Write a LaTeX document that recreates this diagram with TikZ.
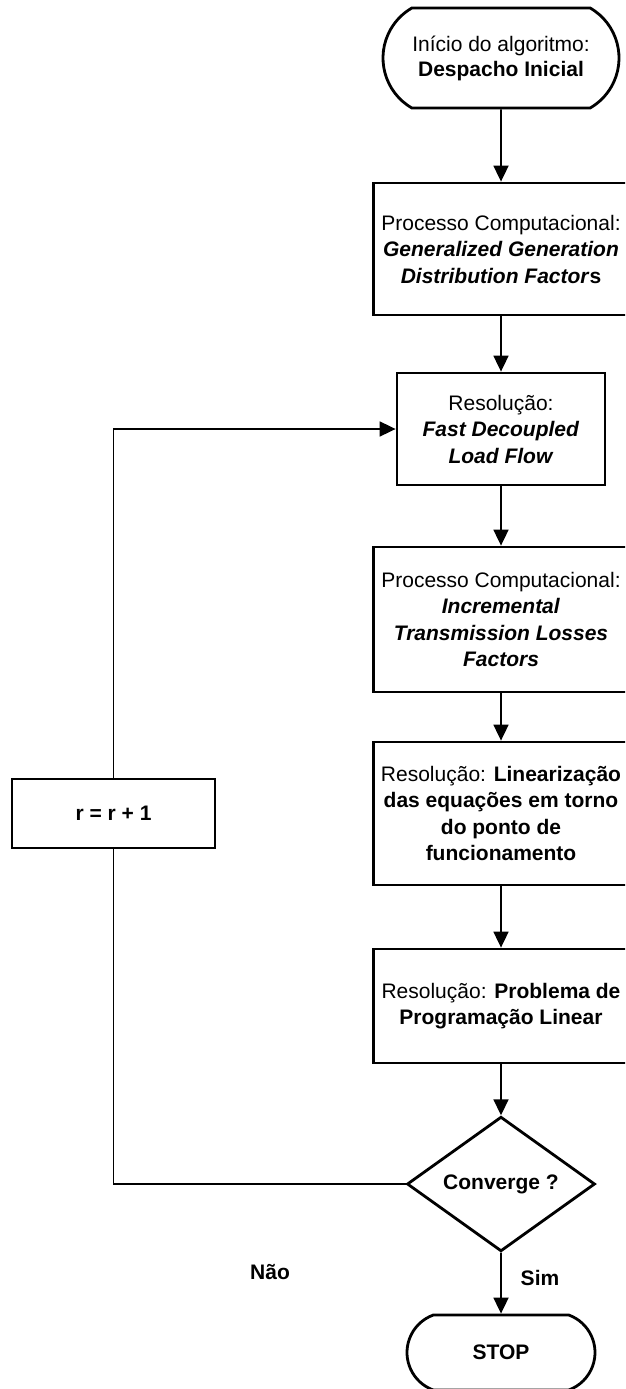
\documentclass[tikz,border=0pt]{standalone}
\usepackage{fontspec}
\setmainfont{Liberation Sans}
\usetikzlibrary{shapes.geometric,shapes.misc,arrows.meta}
\begin{document}
\begin{tikzpicture}[x=1pt,y=-1pt,
  txt/.style={font=\fontsize{21}{26.5}\selectfont, align=center},
  procbox/.style={txt, draw, line width=2.8pt, rectangle, inner sep=0pt, minimum width=255pt},
  termbox/.style={txt, draw, line width=2.8pt, rounded rectangle, inner sep=0pt},
  decbox/.style={txt, draw, line width=2.8pt, diamond, inner sep=0pt, minimum width=188pt, minimum height=112pt},
  flow/.style={line width=1.8pt, -{Triangle[length=16pt,width=15pt]}},
  plain/.style={line width=1.8pt}
]
\useasboundingbox (0,0) rectangle (625,1389);
\clip (0,0) rectangle (625,1389);
\fill[white] (0,0) rectangle (625,1389);

\node[termbox, rounded rectangle arc length=120, minimum width=236pt, minimum height=100pt,
  font=\fontsize{21}{25}\selectfont] (start) at (501,58)
  {Início do algoritmo:\\\textbf{Despacho Inicial}};
\node[procbox, minimum height=132pt] (b1) at (501,249)
  {Processo Computacional:\\\textbf{\textit{Generalized Generation}}\\\textbf{\textit{Distribution Factor}s}};
\node[procbox, minimum width=208pt, minimum height=112pt] (b2) at (501,429)
  {Resolução:\\\textbf{\textit{Fast Decoupled}}\\\textbf{\textit{Load Flow}}};
\node[procbox, minimum height=145pt] (b3) at (501,619.5)
  {Processo Computacional:\\\textbf{\textit{Incremental}}\\\textbf{\textit{Transmission Losses}}\\\textbf{\textit{Factors}}};
\node[procbox, minimum height=143pt] (b4) at (501,813.5)
  {Resolução: \textbf{Linearização}\\\textbf{das equações em torno}\\\textbf{do ponto de}\\\textbf{funcionamento}};
\node[procbox, minimum height=114pt] (b5) at (501,1006)
  {Resolução: \textbf{Problema de}\\\textbf{Programação Linear}};
\node[decbox] (dec) at (501,1184) {\textbf{Converge ?}};
\node[termbox, rounded rectangle arc length=140, minimum width=188pt, minimum height=75pt] (stop) at (501,1352.5)
  {\textbf{STOP}};
\node[procbox, minimum width=203pt, minimum height=69pt] (rb) at (113.5,813.5) {\textbf{r = r + 1}};

\node[txt] (sim) at (540,1278) {\textbf{Sim}};
\node[txt] (nao) at (270,1272) {\textbf{Não}};

\draw[flow] (start) -- (b1);
\draw[flow] (b1) -- (b2);
\draw[flow] (b2) -- (b3);
\draw[flow] (b3) -- (b4);
\draw[flow] (b4) -- (b5);
\draw[flow] (b5) -- (dec);
\draw[flow] (dec) -- (stop);
\draw[plain] (dec.west) -| (rb.south);
\draw[flow] (rb.north) |- (b2.west);
\end{tikzpicture}
\end{document}
